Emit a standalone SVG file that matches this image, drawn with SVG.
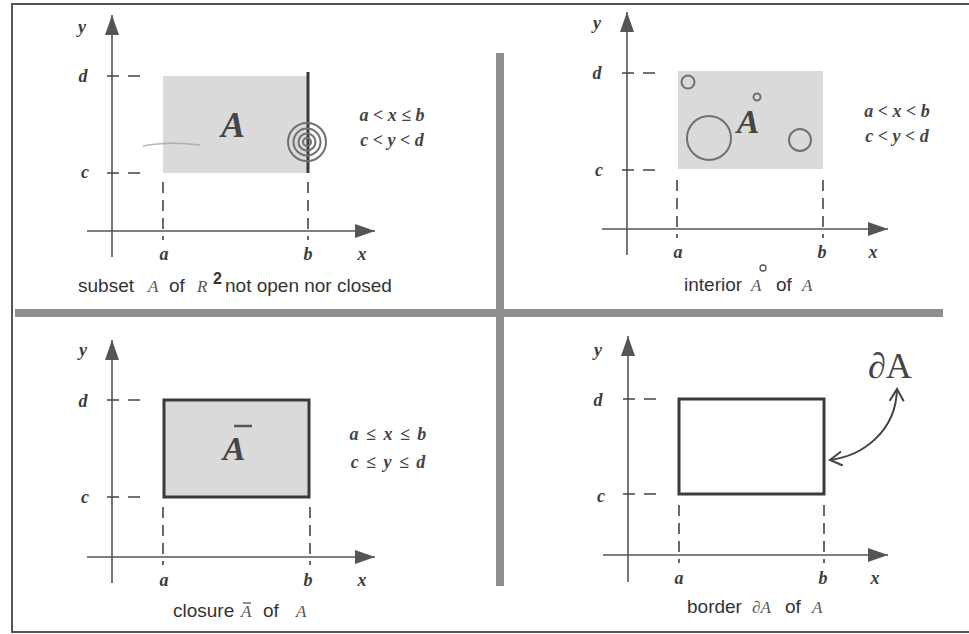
<svg xmlns="http://www.w3.org/2000/svg" width="969" height="634" viewBox="0 0 969 634">
<style>
.bg{fill:#fff}
.frame{fill:none;stroke:#555;stroke-width:2}
.bar{fill:#8e8e8e}
.axis{stroke:#555;stroke-width:1.6;fill:none}
.dash{stroke:#444;stroke-width:1.6;stroke-dasharray:12 9;fill:none}
.vdash{stroke:#444;stroke-width:1.6;stroke-dasharray:11 7;fill:none}
.shade{fill:#dadada}
.edge{stroke:#3a3a3a;stroke-width:3;fill:none}
.ball{fill:none;stroke:#707070;stroke-width:2}
.lbl{font-family:"Liberation Serif",serif;font-style:italic;font-weight:bold;font-size:18px;fill:#3c3c3c;text-anchor:middle}
.cond{font-family:"Liberation Serif",serif;font-style:italic;font-weight:bold;font-size:18px;fill:#444;text-anchor:middle}
.big{font-family:"Liberation Serif",serif;font-style:italic;font-weight:bold;fill:#454545;text-anchor:middle}
.cap{font-family:"Liberation Sans",Arial,sans-serif;font-size:19px;fill:#333}
.capm{font-family:"Liberation Serif",serif;font-style:italic;font-size:17px;fill:#555}
</style>
<defs>
<marker id="ah" markerUnits="userSpaceOnUse" viewBox="0 0 20 14" markerWidth="20" markerHeight="14" refX="20" refY="7" orient="auto">
<path d="M0,0 L20,7 L0,14 z" fill="#555"/>
</marker>
<marker id="oh" markerUnits="userSpaceOnUse" viewBox="0 0 16 16" markerWidth="16" markerHeight="16" refX="14" refY="8" orient="auto-start-reverse">
<path d="M2,1 L14,8 L2,15" fill="none" stroke="#444" stroke-width="2"/>
</marker>
</defs>
<rect class="bg" x="0" y="0" width="969" height="634"/>
<rect class="frame" x="12" y="4" width="975" height="628"/>
<g id="dividers">
<rect class="bar" x="496" y="53" width="8" height="533"/>
<rect class="bar" x="15" y="309" width="928" height="8"/>
</g>

<g id="panel-subset">
<rect class="shade" x="163" y="76" width="145" height="97"/>
<line class="edge" x1="308" y1="72" x2="308" y2="173"/>
<path d="M143 146 Q168 141 200 145" stroke="#9a9a9a" stroke-width="1.5" fill="none" opacity="0.7"/>
<circle class="ball" cx="307" cy="142" r="19"/>
<circle class="ball" cx="307" cy="142" r="13.5"/>
<circle class="ball" cx="307" cy="142" r="8.5"/>
<circle class="ball" cx="307" cy="142" r="4"/>
<line class="axis" x1="112" y1="257" x2="112" y2="15" marker-end="url(#ah)"/>
<line class="axis" x1="87" y1="231" x2="375" y2="231" marker-end="url(#ah)"/>
<line class="dash" x1="107" y1="76" x2="143" y2="76"/>
<line class="dash" x1="107" y1="173" x2="143" y2="173"/>
<line class="vdash" x1="163" y1="182" x2="163" y2="240"/>
<line class="vdash" x1="308" y1="182" x2="308" y2="240"/>
<text class="lbl" x="82" y="33">y</text>
<text class="lbl" x="83" y="82">d</text>
<text class="lbl" x="85" y="178">c</text>
<text class="lbl" x="164" y="260">a</text>
<text class="lbl" x="308" y="260">b</text>
<text class="lbl" x="362" y="260">x</text>
<text class="big" x="233" y="137" font-size="36">A</text>
<text class="cond" x="392" y="121">a &lt; x ≤ b</text>
<text class="cond" x="392" y="146">c &lt; y &lt; d</text>
<text class="cap" x="78" y="292">subset</text>
<text class="capm" x="148" y="292">A</text>
<text class="cap" x="169" y="292">of</text>
<text class="capm" x="197" y="292">R</text>
<text x="213" y="284" font-family="Liberation Sans,Arial,sans-serif" font-weight="bold" font-size="16" fill="#333">2</text>
<text class="cap" x="225" y="292">not open nor closed</text>
</g>

<g id="panel-interior">
<rect class="shade" x="678" y="71" width="145" height="98"/>
<circle class="ball" cx="688" cy="82" r="6.5"/>
<circle class="ball" cx="757" cy="97" r="3.5"/>
<circle class="ball" cx="709" cy="138" r="22"/>
<circle class="ball" cx="800" cy="140" r="11"/>
<line class="axis" x1="627" y1="255" x2="627" y2="12" marker-end="url(#ah)"/>
<line class="axis" x1="602" y1="229" x2="888" y2="229" marker-end="url(#ah)"/>
<line class="dash" x1="622" y1="73" x2="658" y2="73"/>
<line class="dash" x1="622" y1="170" x2="658" y2="170"/>
<line class="vdash" x1="677" y1="180" x2="677" y2="238"/>
<line class="vdash" x1="823" y1="180" x2="823" y2="238"/>
<text class="lbl" x="597" y="29">y</text>
<text class="lbl" x="597" y="79">d</text>
<text class="lbl" x="599" y="176">c</text>
<text class="lbl" x="678" y="258">a</text>
<text class="lbl" x="822" y="258">b</text>
<text class="lbl" x="873" y="258">x</text>
<text class="big" x="748" y="133" font-size="34">A</text>
<text class="cond" x="897" y="117">a &lt; x &lt; b</text>
<text class="cond" x="897" y="142">c &lt; y &lt; d</text>
<text class="cap" x="684" y="291">interior</text>
<text class="capm" x="751" y="291">A</text>
<circle cx="763" cy="268" r="3" fill="none" stroke="#555" stroke-width="1.3"/>
<text class="cap" x="776" y="291">of</text>
<text class="capm" x="802" y="291">A</text>
</g>

<g id="panel-closure">
<rect class="shade" x="164" y="400" width="145" height="97"/>
<rect class="edge" x="164" y="400" width="145" height="97"/>
<line class="axis" x1="112" y1="583" x2="112" y2="340" marker-end="url(#ah)"/>
<line class="axis" x1="87" y1="557" x2="375" y2="557" marker-end="url(#ah)"/>
<line class="dash" x1="107" y1="400" x2="143" y2="400"/>
<line class="dash" x1="107" y1="497" x2="143" y2="497"/>
<line class="vdash" x1="163" y1="507" x2="163" y2="565"/>
<line class="vdash" x1="310" y1="507" x2="310" y2="565"/>
<text class="lbl" x="83" y="356">y</text>
<text class="lbl" x="83" y="407">d</text>
<text class="lbl" x="85" y="503">c</text>
<text class="lbl" x="164" y="586">a</text>
<text class="lbl" x="308" y="586">b</text>
<text class="lbl" x="362" y="586">x</text>
<text class="big" x="234" y="460" font-size="34">A</text>
<line x1="234" y1="426" x2="252" y2="426" stroke="#555" stroke-width="2.5"/>
<text class="cond" x="388" y="440" word-spacing="3">a ≤ x ≤ b</text>
<text class="cond" x="388" y="468" word-spacing="3">c ≤ y ≤ d</text>
<text class="cap" x="173" y="617">closure</text>
<text class="capm" x="241" y="617">A</text>
<line x1="243" y1="603" x2="251" y2="603" stroke="#555" stroke-width="1.3"/>
<text class="cap" x="263" y="617">of</text>
<text class="capm" x="296" y="617">A</text>
</g>

<g id="panel-border">
<rect class="edge" x="679" y="399" width="145" height="95" fill="#fff"/>
<line class="axis" x1="628" y1="582" x2="628" y2="336" marker-end="url(#ah)"/>
<line class="axis" x1="603" y1="555" x2="888" y2="555" marker-end="url(#ah)"/>
<line class="dash" x1="623" y1="399" x2="659" y2="399"/>
<line class="dash" x1="623" y1="494" x2="659" y2="494"/>
<line class="vdash" x1="679" y1="505" x2="679" y2="563"/>
<line class="vdash" x1="824" y1="505" x2="824" y2="563"/>
<text class="lbl" x="598" y="356">y</text>
<text class="lbl" x="598" y="406">d</text>
<text class="lbl" x="601" y="502">c</text>
<text class="lbl" x="679" y="584">a</text>
<text class="lbl" x="823" y="584">b</text>
<text class="lbl" x="875" y="584">x</text>
<text x="868" y="378" font-family="Liberation Serif,serif" font-size="36" fill="#444">∂A</text>
<path d="M830 460 C862 456 896 432 897 389" fill="none" stroke="#444" stroke-width="2" marker-start="url(#oh)" marker-end="url(#oh)"/>
<text class="cap" x="687" y="613">border</text>
<text class="capm" x="752" y="613">∂A</text>
<text class="cap" x="785" y="613">of</text>
<text class="capm" x="812" y="613">A</text>
</g>
</svg>
